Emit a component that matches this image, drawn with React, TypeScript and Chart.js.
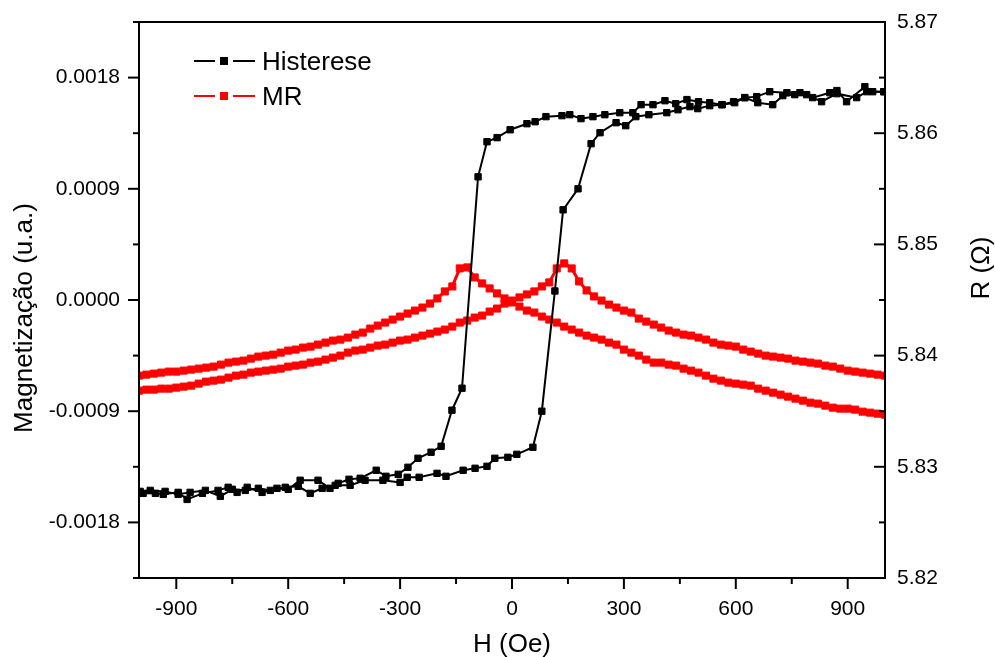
import React, { useEffect, useRef } from "react";
import { Chart, registerables } from "chart.js";

Chart.register(...registerables);

const FONT = '"Liberation Sans", Arial, Helvetica, sans-serif';

// Field grid of the MR sweeps (Oe)
const MR_FIELD = [
  -1000, -980, -960, -940, -920, -900, -880, -860, -840, -820,
  -800, -780, -760, -740, -720, -700, -680, -660, -640, -620,
  -600, -580, -560, -540, -520, -500, -480, -460, -440, -420,
  -400, -380, -360, -340, -320, -300, -280, -260, -240, -220,
  -200, -180, -160, -140, -120, -100, -80, -60, -40, -20,
  0,
  20, 40, 60, 80, 100, 120, 140, 160, 180, 200,
  220, 240, 260, 280, 300, 320, 340, 360, 380, 400,
  420, 440, 460, 480, 500, 520, 540, 560, 580, 600,
  620, 640, 660, 680, 700, 720, 740, 760, 780, 800,
  820, 840, 860, 880, 900, 920, 940, 960, 980, 1000,
];

// MR branch with peak at negative field (Ohm)
const MR_DESC = [
  5.8382, 5.83829, 5.83838, 5.83847, 5.83856, 5.83856, 5.83865, 5.83874, 5.83883, 5.83892,
  5.83901, 5.83919, 5.83937, 5.83946, 5.83955, 5.83973, 5.83991, 5.84, 5.84009, 5.84027,
  5.84045, 5.84054, 5.84072, 5.84081, 5.84099, 5.84117, 5.84135, 5.84144, 5.84162, 5.84189,
  5.84207, 5.84243, 5.8427, 5.84297, 5.84324, 5.84351, 5.84378, 5.84405, 5.84432, 5.84468,
  5.84514, 5.84577, 5.84622, 5.84784, 5.84793, 5.84703, 5.84649, 5.84604, 5.84559, 5.84514,
  5.84478,
  5.84441, 5.84405, 5.84387, 5.84351, 5.84324, 5.84297, 5.84261, 5.84234, 5.84207, 5.8418,
  5.84162, 5.84144, 5.84117, 5.84099, 5.84054, 5.84027, 5.84, 5.83964, 5.83937, 5.83937,
  5.83919, 5.8391, 5.83883, 5.83865, 5.83847, 5.8382, 5.83793, 5.83775, 5.83757, 5.83748,
  5.83739, 5.8373, 5.83703, 5.83685, 5.83667, 5.83649, 5.83631, 5.83613, 5.83595, 5.83577,
  5.83568, 5.8355, 5.83532, 5.83523, 5.83523, 5.83514, 5.83496, 5.83487, 5.83478, 5.83469,
];

// MR branch with peak at positive field (Ohm)
const MR_ASC = [
  5.83685, 5.83694, 5.83694, 5.83703, 5.83703, 5.83712, 5.83721, 5.8373, 5.83748, 5.83766,
  5.83775, 5.83784, 5.83802, 5.8382, 5.83829, 5.83847, 5.83856, 5.83865, 5.83874, 5.83883,
  5.83901, 5.8391, 5.83919, 5.83937, 5.83946, 5.83964, 5.83982, 5.84, 5.84027, 5.84045,
  5.84054, 5.84072, 5.8409, 5.84099, 5.84117, 5.84135, 5.84144, 5.84162, 5.8418, 5.84198,
  5.84216, 5.84234, 5.84261, 5.84297, 5.84315, 5.84342, 5.8436, 5.84396, 5.84423, 5.84468,
  5.84495,
  5.84523, 5.8455, 5.84577, 5.84622, 5.84658, 5.84784, 5.84829, 5.84784, 5.84667, 5.84586,
  5.84532, 5.84495, 5.84459, 5.84432, 5.84405, 5.84387, 5.84333, 5.84306, 5.84279, 5.84252,
  5.84225, 5.84207, 5.84189, 5.8418, 5.84162, 5.84144, 5.84117, 5.84099, 5.8409, 5.84081,
  5.84054, 5.84036, 5.84018, 5.84, 5.83991, 5.83982, 5.83973, 5.83955, 5.83946, 5.83937,
  5.83928, 5.8391, 5.83901, 5.83883, 5.83865, 5.83856, 5.83847, 5.83838, 5.83829, 5.8382,
];

// Hysteresis, descending field sweep
const HYS_DESC_H = [
  997, 967, 946, 897, 871, 852, 806, 772, 737, 691, 656, 624, 597, 563, 530, 500,
  469, 439, 410, 378, 346, 324, 289, 249, 217, 185, 155, 134, 91, 62, 40, -5,
  -40, -67, -91, -134, -161, -190, -217, -252, -279, -305, -338, -364, -407, -437,
  -466, -488, -520, -568, -600, -630, -670, -710, -737, -761, -788, -830, -871, -895,
  -935, -956, -989,
];
const HYS_DESC_M = [
  0.001686, 0.001686, 0.001727, 0.001605, 0.001695, 0.001678, 0.001638, 0.001678, 0.001678, 0.001686,
  0.001646, 0.001638, 0.001597, 0.001581, 0.001597, 0.001605, 0.001622, 0.001589, 0.001613, 0.001581,
  0.001581, 0.001516, 0.001516, 0.0015, 0.001484, 0.001468, 0.0015, 0.001492, 0.001484, 0.001443,
  0.001427, 0.001378, 0.001314, 0.001281, 0.000997, -0.000714, -0.000892, -0.001184, -0.001232, -0.001281,
  -0.001354, -0.001411, -0.001427, -0.001378, -0.001443, -0.001451, -0.001484, -0.001524, -0.001459, -0.001459,
  -0.001532, -0.001524, -0.001557, -0.001516, -0.001557, -0.001516, -0.001541, -0.001565, -0.001614, -0.001557,
  -0.001573, -0.001565, -0.001565,
];

// Hysteresis, ascending field sweep
const HYS_ASC_H = [
  -997, -970, -930, -895, -863, -822, -782, -750, -715, -680, -648, -608, -573, -541, -509,
  -474, -434, -394, -346, -300, -281, -249, -201, -177, -131, -99, -67, -46, -11, 13,
  56, 80, 115, 137, 177, 212, 236, 279, 305, 332, 367, 415, 445, 477, 498, 530,
  563, 594, 624, 659, 699, 726, 758, 790, 830, 871, 924, 951, 997,
];
const HYS_ASC_M = [
  -0.001549, -0.001541, -0.001549, -0.001573, -0.001557, -0.001541, -0.001589, -0.001532, -0.001541, -0.001524,
  -0.001541, -0.001516, -0.001508, -0.001565, -0.001524, -0.0015, -0.0015, -0.001459, -0.001459, -0.001476,
  -0.001435, -0.001435, -0.001403, -0.001427, -0.001378, -0.001362, -0.001346, -0.001281, -0.001273, -0.001249,
  -0.001192, -0.0009, 0.000073, 0.00073, 0.0009, 0.001265, 0.001354, 0.001435, 0.001411, 0.001484,
  0.0015, 0.001516, 0.00154, 0.001565, 0.001549, 0.001573, 0.001581, 0.001605, 0.001638, 0.001597,
  0.001581, 0.001654, 0.001662, 0.001662, 0.001605, 0.00167, 0.001638, 0.001686, 0.001686,
];

const X_TICKS = [-900, -600, -300, 0, 300, 600, 900];
const X_MINOR = [-750, -450, -150, 150, 450, 750];
const M_TICKS = [-0.0018, -0.0009, 0, 0.0009, 0.0018];
const M_MINOR = [-0.00225, -0.00135, -0.00045, 0.00045, 0.00135, 0.00225];
const R_TICKS = [5.82, 5.83, 5.84, 5.85, 5.86, 5.87];
const R_MINOR = [5.825, 5.835, 5.845, 5.855, 5.865];

const X_TITLE = "H (Oe)";
const M_TITLE = "Magnetização (u.a.)";
const R_TITLE = "R (Ω)";
const SERIES = ["Histerese", "MR"];
const COLORS = ["#000000", "#ff0000"];

const zip = (xs: number[], ys: number[]) => xs.map((x, i) => ({ x, y: ys[i] }));

const decor = {
  id: "decor",
  afterDraw(chart: any) {
    const { ctx, chartArea: a, scales } = chart;
    const sx = scales.x, sy = scales.y, sr = scales.y1;
    ctx.save();
    ctx.strokeStyle = "#000";
    ctx.lineWidth = 2;
    ctx.lineCap = "butt";
    ctx.strokeRect(a.left, a.top, a.right - a.left, a.bottom - a.top);
    const seg = (x1: number, y1: number, x2: number, y2: number) => {
      ctx.beginPath();
      ctx.moveTo(x1, y1);
      ctx.lineTo(x2, y2);
      ctx.stroke();
    };
    X_TICKS.forEach((v) => { const p = sx.getPixelForValue(v); seg(p, a.bottom, p, a.bottom + 11); });
    X_MINOR.forEach((v) => { const p = sx.getPixelForValue(v); seg(p, a.bottom, p, a.bottom + 6); });
    M_TICKS.forEach((v) => { const p = sy.getPixelForValue(v); seg(a.left - 11, p, a.left, p); });
    M_MINOR.forEach((v) => { const p = sy.getPixelForValue(v); seg(a.left - 6, p, a.left, p); });
    R_TICKS.forEach((v) => { const p = sr.getPixelForValue(v); seg(a.right - 11, p, a.right, p); });
    R_MINOR.forEach((v) => { const p = sr.getPixelForValue(v); seg(a.right - 6, p, a.right, p); });

    // axis titles
    ctx.fillStyle = "#000";
    ctx.font = `26px ${FONT}`;
    ctx.textAlign = "center";
    ctx.textBaseline = "alphabetic";
    ctx.fillText(X_TITLE, (a.left + a.right) / 2, a.bottom + 74);

    ctx.save();
    ctx.translate(31.5, (a.top + a.bottom) / 2 + 18);
    ctx.rotate(-Math.PI / 2);
    ctx.fillText(M_TITLE, 0, 0);
    ctx.restore();

    ctx.save();
    ctx.translate(989, (a.top + a.bottom) / 2 - 32);
    ctx.rotate(-Math.PI / 2);
    ctx.fillText(R_TITLE, 0, 0);
    ctx.restore();

    // legend
    const rows = [a.top + 39, a.top + 74];
    SERIES.forEach((name, i) => {
      const yy = rows[i];
      const x0 = a.left + 55;
      ctx.strokeStyle = COLORS[i];
      ctx.fillStyle = COLORS[i];
      ctx.lineWidth = 2;
      seg(x0, yy, x0 + 21, yy);
      seg(x0 + 39, yy, x0 + 61, yy);
      ctx.fillRect(x0 + 26, yy - 4, 8, 8);
      ctx.fillStyle = "#000";
      ctx.textAlign = "left";
      ctx.fillText(name, a.left + 123, yy + 9);
    });
    ctx.restore();
  },
};

const lineSet = (label: string, data: any[], axis: string, color: string, r: number, bw: number) => ({
  label,
  data,
  yAxisID: axis,
  borderColor: color,
  backgroundColor: color,
  borderWidth: bw,
  pointStyle: "rect",
  pointRadius: r,
  pointBorderWidth: 1,
  pointBackgroundColor: color,
  pointBorderColor: color,
  tension: 0,
});

export default function App() {
  const ref = useRef<HTMLCanvasElement>(null);
  useEffect(() => {
    if (!ref.current) return;
    const tickFont = { family: FONT, size: 21 };
    const chart = new Chart(ref.current, {
      type: "line",
      data: {
        datasets: [
          lineSet(SERIES[0], zip(HYS_DESC_H, HYS_DESC_M), "y", COLORS[0], 4.5, 2),
          lineSet(SERIES[0], zip(HYS_ASC_H, HYS_ASC_M), "y", COLORS[0], 4.5, 2),
          lineSet(SERIES[1], zip(MR_FIELD, MR_DESC), "y1", COLORS[1], 5, 3),
          lineSet(SERIES[1], zip(MR_FIELD, MR_ASC), "y1", COLORS[1], 5, 3),
        ] as any,
      },
      options: {
        animation: false,
        responsive: false,
        devicePixelRatio: 1,
        layout: { padding: { top: 22, left: 0, right: 0, bottom: 0 } },
        plugins: { legend: { display: false }, tooltip: { enabled: false } },
        events: [],
        scales: {
          x: {
            type: "linear",
            min: -1000,
            max: 1000,
            grid: { display: false, drawTicks: false },
            border: { display: false },
            afterBuildTicks: (s: any) => { s.ticks = X_TICKS.map((v) => ({ value: v })); },
            afterFit: (s: any) => { s.height = 79; s.paddingLeft = 0; s.paddingRight = 0; },
            ticks: {
              autoSkip: false,
              maxRotation: 0,
              padding: 19,
              color: "#000",
              font: tickFont,
              callback: (v: any) => String(v),
            },
          },
          y: {
            type: "linear",
            position: "left",
            min: -0.00225,
            max: 0.00225,
            grid: { display: false, drawTicks: false },
            border: { display: false },
            afterBuildTicks: (s: any) => { s.ticks = M_TICKS.map((v) => ({ value: v })); },
            afterFit: (s: any) => { s.width = 139; s.paddingTop = 0; s.paddingBottom = 0; },
            ticks: {
              padding: 19,
              color: "#000",
              font: tickFont,
              callback: (v: any) => (Math.abs(v) < 1e-12 ? "0.0000" : Number(v).toFixed(4)),
            },
          },
          y1: {
            type: "linear",
            position: "right",
            min: 5.82,
            max: 5.87,
            grid: { display: false, drawTicks: false },
            border: { display: false },
            afterBuildTicks: (s: any) => { s.ticks = R_TICKS.map((v) => ({ value: v })); },
            afterFit: (s: any) => { s.width = 110; s.paddingTop = 0; s.paddingBottom = 0; },
            ticks: {
              padding: 12,
              color: "#000",
              font: tickFont,
              callback: (v: any) => Number(v).toFixed(2),
            },
          },
        },
      } as any,
      plugins: [decor],
    });
    return () => chart.destroy();
  }, []);

  return (
    <div style={{ position: "fixed", left: 0, top: 0, width: 995, height: 657, background: "#fff" }}>
      <canvas ref={ref} width={995} height={657} style={{ display: "block" }} />
    </div>
  );
}
